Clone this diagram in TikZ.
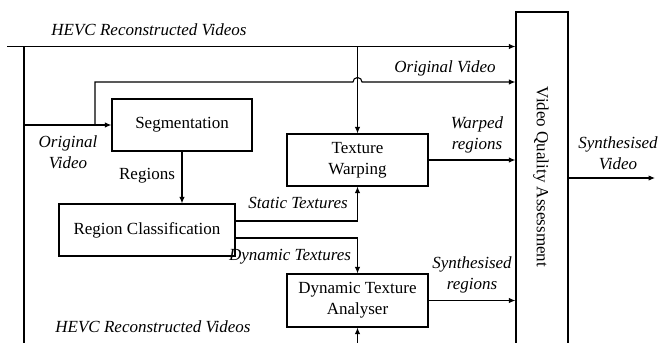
\documentclass[tikz,border=0pt]{standalone}
\usepackage{fontspec}
\setmainfont{Liberation Serif}
\usetikzlibrary{arrows.meta,calc}
\begin{document}
\begin{tikzpicture}[x=1pt,y=-1pt,
  line width=1.1pt,
  box/.style={draw,line width=1.2pt,align=center,inner sep=0pt,font=\fontsize{17}{21}\selectfont},
  arr/.style={-{Latex[length=6.5pt,width=5.5pt]}},
  lab/.style={font=\fontsize{17}{21}\selectfont\itshape,align=center,inner sep=0pt},
  rlab/.style={font=\fontsize{17}{21}\selectfont,align=center,inner sep=0pt}]
\useasboundingbox (0,0) rectangle (662,343);
% boxes
\node[box,minimum width=140pt,minimum height=52pt] (seg) at (182,125) {Segmentation};
\node[box,minimum width=141pt,minimum height=52pt] (tw) at (357.5,160) {Texture\\Warping};
\node[box,minimum width=176pt,minimum height=52pt] (rc) at (147,230) {Region Classification};
\node[box,minimum width=141pt,minimum height=53pt] (dta) at (357.5,300.5) {Dynamic Texture\\Analyser};
\node[box,minimum width=52pt,minimum height=340pt] (vqa) at (542,182) {};
\node[rlab,rotate=-90] (vqat) at (541,177) {Video Quality Assessment};
% coordinates
\coordinate (hs) at (7,46.5);
\coordinate (lv) at (24,46.5);
\coordinate (lb) at (24,350);
\coordinate (br) at (95,82);
\coordinate (bb) at (357.5,350);
\coordinate (out) at (655,178);
% connectors
\draw[arr] (hs) -- (hs -| vqa.west);
\draw (lv) -- (lb);
\draw[arr] (seg.west -| lv) -- (seg.west);
\draw[arr] (seg.west -| br) -- (br) -- ($(tw.north |- br)+(-4.5,0)$) arc (180:360:4.5) -- (br -| vqa.west);
\draw[arr] (tw.north |- hs) -- (tw.north);
\draw[arr] (seg.south) -- (seg.south |- rc.north);
\draw[arr] ([yshift=9pt]rc.east) -| (tw.south);
\draw[arr] ([yshift=-8pt]rc.east) -| (dta.north);
\draw[arr] (tw.east) -- (tw.east -| vqa.west);
\draw[arr] (dta.east) -- (dta.east -| vqa.west);
\draw[arr] (bb) -- (dta.south);
\draw[arr] (vqa.east |- out) -- (out);
% labels
\node[lab] (l1) at (149,30) {HEVC Reconstructed Videos};
\node[lab] (l2) at (445,68) {Original Video};
\node[lab] (l3) at (68,152) {Original\\Video};
\node[rlab] (l4) at (147,176) {Regions};
\node[lab] (l5) at (298,203) {Static Textures};
\node[lab] (l6) at (290,257) {Dynamic Textures};
\node[lab] (l7) at (477,135) {Warped\\regions};
\node[lab] (l8) at (472,275) {Synthesised\\regions};
\node[lab] (l9) at (618,153) {Synthesised\\Video};
\node[lab] (l10) at (153,327) {HEVC Reconstructed Videos};
\end{tikzpicture}
\end{document}
